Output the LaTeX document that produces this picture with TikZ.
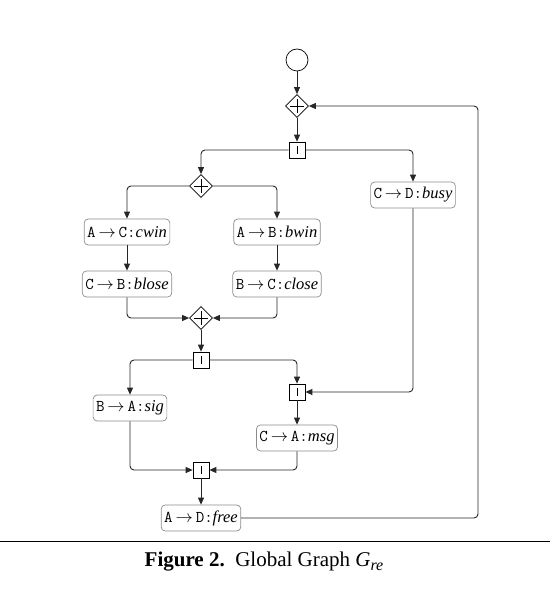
\documentclass[tikz,border=0pt]{standalone}
\usepackage{fontspec}
\usetikzlibrary{shapes.geometric,arrows.meta}
\newfontfamily\tnr{Liberation Serif}
\newcommand{\msgtxt}[3]{\texttt{#1}$\,\rightarrow\,$\texttt{#2}\texttt{:}{\tnr\itshape #3}}
\tikzset{
  msgbox/.style={draw=black!45, fill=white, rounded corners=4pt, minimum height=26pt, inner xsep=3pt, inner ysep=2pt, font=\fontsize{16.5}{18}\selectfont, line width=0.7pt},
  choice/.style={draw, diamond, minimum size=23pt, inner sep=0pt, fill=white, line width=0.7pt,
    path picture={\draw[line width=0.7pt] ([xshift=4.5pt]path picture bounding box.west) -- ([xshift=-4.5pt]path picture bounding box.east);
                  \draw[line width=0.7pt] ([yshift=4.5pt]path picture bounding box.south) -- ([yshift=-4.5pt]path picture bounding box.north);}},
  gate/.style={draw, rectangle, minimum size=16pt, inner sep=0pt, fill=white, line width=0.7pt,
    path picture={\draw[line width=0.7pt] ([yshift=4pt]path picture bounding box.south) -- ([yshift=-4pt]path picture bounding box.north);}},
  arr/.style={-{Triangle[length=7pt,width=6pt]}, line width=0.9pt, rounded corners=4pt, draw=black!85}
}
\begin{document}
\begin{tikzpicture}[x=1pt,y=-1pt]
\useasboundingbox (0,0) rectangle (550,609);
\node[circle, draw, minimum size=22pt, inner sep=0pt, line width=0.7pt] (start) at (297,60) {};
\node[choice] (ch1) at (297,106) {};
\node[gate] (f1) at (297,150) {};
\node[choice] (ch2) at (201,186) {};
\node[msgbox] (busy) at (413,195) {\msgtxt{C}{D}{busy}};
\node[msgbox] (cwin) at (127,232) {\msgtxt{A}{C}{cwin}};
\node[msgbox] (bwin) at (277,232) {\msgtxt{A}{B}{bwin}};
\node[msgbox] (blose) at (127,284) {\msgtxt{C}{B}{blose}};
\node[msgbox] (close) at (277,284) {\msgtxt{B}{C}{close}};
\node[choice] (ch3) at (201,318) {};
\node[gate] (f2) at (201,360) {};
\node[msgbox] (sig) at (130,408) {\msgtxt{B}{A}{sig}};
\node[gate] (j1) at (297,392) {};
\node[msgbox] (msg) at (297,438) {\msgtxt{C}{A}{msg}};
\node[gate] (j2) at (201,470) {};
\node[msgbox] (free) at (201,518) {\msgtxt{A}{D}{free}};
\coordinate (loop) at (478,106);

\draw[arr] (start) -- (ch1);
\draw[arr] (ch1) -- (f1);
\draw[arr] (f1) -| (ch2);
\draw[arr] (f1) -| (busy);
\draw[arr] (ch2) -| (cwin);
\draw[arr] (ch2) -| (bwin);
\draw[arr] (cwin) -- (blose);
\draw[arr] (bwin) -- (close);
\draw[arr] (blose) |- (ch3);
\draw[arr] (close) |- (ch3);
\draw[arr] (ch3) -- (f2);
\draw[arr] (f2) -| (sig);
\draw[arr] (f2) -| (j1);
\draw[arr] (busy) |- (j1);
\draw[arr] (j1) -- (msg);
\draw[arr] (sig) |- (j2);
\draw[arr] (msg) |- (j2);
\draw[arr] (j2) -- (free);
\draw[arr] (free) -| (loop) -- (ch1);

\coordinate (rl) at (0,541);
\coordinate (rr) at (550,541);
\draw[line width=0.9pt] (rl) -- (rr);
\node[font=\tnr\fontsize{21}{24}\selectfont] (cap) at (264,562) {\textbf{Figure 2.}\ \ Global Graph \textit{G}\raisebox{-4pt}{\fontsize{16}{18}\selectfont\textit{re}}};
\end{tikzpicture}
\end{document}
